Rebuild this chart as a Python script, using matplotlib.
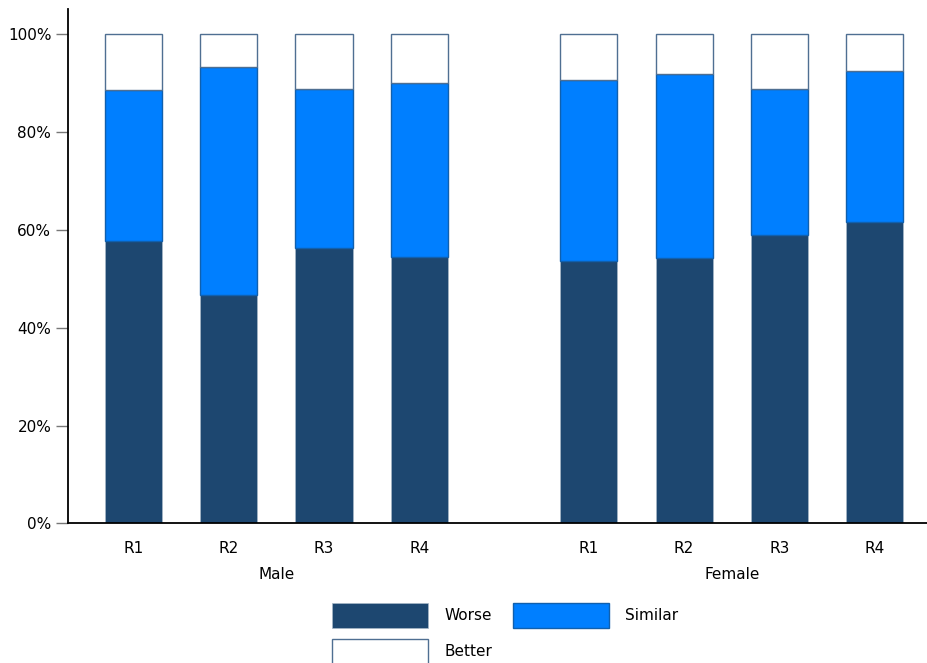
import numpy as np
import matplotlib
matplotlib.use('Agg')
import matplotlib.pyplot as plt
from matplotlib.ticker import FuncFormatter

# Shares of respondents (%) by round and sex
groups = ['Male', 'Female']
rounds = ['R1', 'R2', 'R3', 'R4']
worse_male = [57.8, 46.7, 56.3, 54.5]
similar_male = [30.8, 46.6, 32.5, 35.6]
better_male = [11.4, 6.7, 11.2, 9.9]
worse_female = [53.7, 54.3, 59.0, 61.7]
similar_female = [36.9, 37.7, 29.8, 30.8]
better_female = [9.4, 8.0, 11.2, 7.5]

worse = np.array(worse_male + worse_female)
similar = np.array(similar_male + similar_female)
better = np.array(better_male + better_female)

# bar positions: two groups of four with a wider gap in between
x = np.array([0, 1, 2, 3, 4.78, 5.78, 6.78, 7.78])

c_worse = '#1d4770'
c_similar = '#007fff'

fig = plt.figure(figsize=(9.28, 6.63), dpi=100)
ax = fig.add_axes([0.0733, 0.2107, 0.9267, 0.7757])

w = 0.6
b1 = ax.bar(x, worse, width=w, color=c_worse, edgecolor='#a8b8c8', linewidth=0.5, label='Worse')
b2 = ax.bar(x, similar, width=w, bottom=worse, color=c_similar, edgecolor='#1060ae', linewidth=1.0, label='Similar')
b3 = ax.bar(x, better, width=w, bottom=worse + similar, color='white', edgecolor='#4f6f92', linewidth=1.0, label='Better')

ax.set_xlim(-0.687, 8.34)
ax.set_ylim(0, 105.2)
ax.set_yticks([0, 20, 40, 60, 80, 100])
ax.yaxis.set_major_formatter(FuncFormatter(lambda v, p: '%d%%' % v))
ax.tick_params(axis='y', length=9, width=1, color='#777777', labelsize=11, pad=3)
ax.set_xticks(x)
ax.set_xticklabels(rounds * 2)
ax.tick_params(axis='x', length=0, labelsize=11, pad=13)

for s in ['top', 'right']:
    ax.spines[s].set_visible(False)
ax.spines['left'].set_color('black')
ax.spines['bottom'].set_color('black')
ax.spines['left'].set_linewidth(1.3)
ax.spines['bottom'].set_linewidth(1.3)

# group labels under the round labels
for i, g in enumerate(groups):
    xc = x[i * 4:(i + 1) * 4].mean()
    ax.text(xc, -10.4, g, ha='center', va='center', fontsize=11)

# legend: Worse / Similar on first row, Better on second
ax.legend([b1, b3, b2], ['Worse', 'Better', 'Similar'], ncol=2, frameon=False,
          loc='upper left', bbox_to_anchor=(0.30, -0.143), fontsize=11,
          handlelength=6.3, handleheight=2.15, labelspacing=0.7,
          handletextpad=1.05, columnspacing=1.35, borderaxespad=0)

fig.savefig('out.png', dpi=100)
